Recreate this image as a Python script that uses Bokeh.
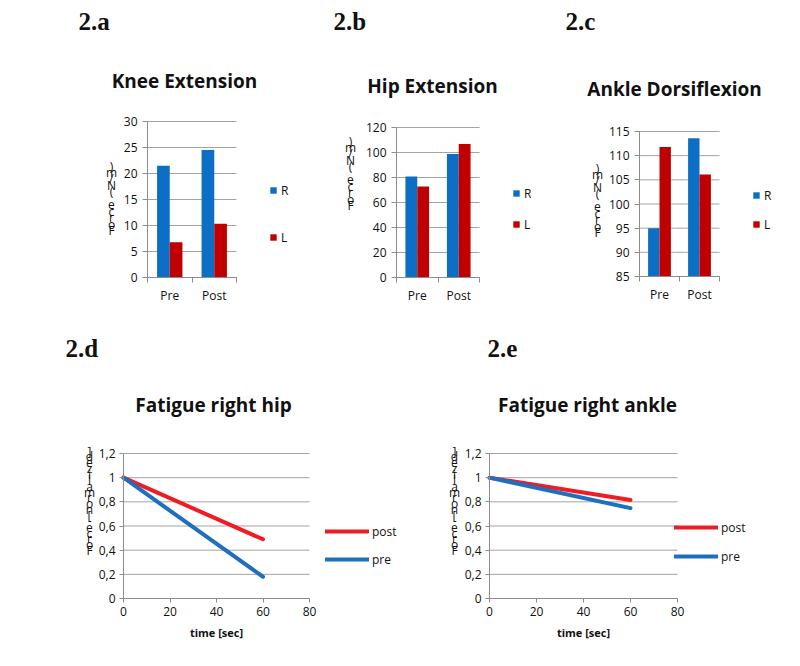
from bokeh.plotting import figure
from bokeh.models import (Range1d, Label, Legend, LegendItem, LinearAxis,
                          ColumnDataSource, FixedTicker)
from bokeh.transform import dodge
from bokeh.embed import file_html
from bokeh.resources import INLINE

# ---------------- data ----------------
categories = ["Pre", "Post"]
knee_R = [21.5, 24.5]
knee_L = [6.8, 10.35]
hip_R = [80.9, 98.8]
hip_L = [72.9, 106.8]
ankle_R = [95.0, 113.6]
ankle_L = [111.8, 106.1]

knee_ticks = [0, 5, 10, 15, 20, 25, 30]
hip_ticks = [0, 20, 40, 60, 80, 100, 120]
ankle_ticks = [85, 90, 95, 100, 105, 110, 115]

time_sec = [0, 60]
hip_post = [1.0, 0.49]
hip_pre = [1.0, 0.18]
ankle_post = [1.0, 0.815]
ankle_pre = [1.0, 0.748]

line_x_ticks = [0, 20, 40, 60, 80]
line_y_ticks = [0, 0.2, 0.4, 0.6, 0.8, 1, 1.2]
line_y_labels = ["0", "0,2", "0,4", "0,6", "0,8", "1", "1,2"]

bar_ylabel = "Force (N/m)"
line_ylabel = "Force [normalized]"
line_xlabel = "time [sec]"

# ---------------- style ----------------
FONT = "Open Sans"
SERIF = "Liberation Serif"
BLUE = "#0c6ec4"
RED = "#c00000"
LBLUE = "#1e6fbf"
LRED = "#ee1c25"
GRID = "#a3a3a3"
AXIS = "#8c8c8c"
INK = "#111111"

WC, HC = 792, 658  # canvas; the frame covers all of it

p = figure(width=WC, height=HC, x_range=Range1d(0, WC), y_range=Range1d(0, HC),
           x_axis_type=None, y_axis_type=None, output_backend="svg",
           toolbar_location=None, min_border=0, title=None)
p.grid.visible = False
p.outline_line_color = None

xr, yr = {}, {}


def panel_ranges(name, L, R, T, B, d0, d1, v0, v1):
    """data ranges so that [d0,d1]x[v0,v1] fills the pixel box L..R, T..B"""
    ppx = (R - L) / (d1 - d0)
    xs = d0 - L / ppx
    ppy = (B - T) / (v1 - v0)
    ys = v0 - (HC - B) / ppy
    xr[name] = Range1d(xs, xs + WC / ppx)
    yr[name] = Range1d(ys, ys + HC / ppy)


def add_text(X, Y, text, **kw):
    p.add_layout(Label(x=X, y=HC - Y, x_units="screen", y_units="screen",
                       text=text, text_color=INK, **kw))


def style_axis(ax):
    ax.axis_line_color = AXIS
    ax.major_tick_line_color = AXIS
    ax.major_tick_in = 0
    ax.major_tick_out = 4
    ax.minor_tick_line_color = None
    ax.major_label_text_font = FONT
    ax.major_label_text_font_size = "12px"
    ax.major_label_text_color = INK


def grid_lines(name, ticks, x0, x1):
    p.segment(x0=[x0] * len(ticks), x1=[x1] * len(ticks), y0=ticks, y1=ticks,
              line_color=GRID, line_width=1, x_range_name=name,
              y_range_name=name, level="underlay")


def titles(title, tx, ty, panel, px, py, ylab, yx, yy, lh):
    add_text(tx, ty - 7, title, text_font=FONT, text_font_size="19px",
             text_font_style="bold", text_align="center",
             text_baseline="alphabetic")
    add_text(px, py - 8, panel, text_font=SERIF, text_font_size="25px",
             text_font_style="bold", text_align="left",
             text_baseline="alphabetic")
    add_text(yx, yy - 6, "\n".join(reversed(ylab)), text_font=FONT,
             text_font_size="12px", text_align="center", text_baseline="top",
             text_line_height=lh)


pos = [i + 0.5 for i in range(len(categories))]
bounds_pos = [float(i) for i in range(len(categories) + 1)]

bar_specs = [
    # name, box(L,R,T,B), ticks, R, L, title, title xy, panel, panel xy, ylabel xy, legend x, legend ys
    ("a", (147, 236, 121, 277), knee_ticks, knee_R, knee_L, "Knee Extension",
     (184, 87), "2.a", (78, 29), (111, 163), 269, (190, 237)),
    ("b", (396, 479, 127, 277), hip_ticks, hip_R, hip_L, "Hip Extension",
     (432, 92), "2.b", (333, 29), (350, 138), 512, (193, 224)),
    ("c", (639, 719, 131, 276), ankle_ticks, ankle_R, ankle_L, "Ankle Dorsiflexion",
     (674, 95), "2.c", (565, 29), (597, 165), 752, (195, 224)),
]

for name, (L, R, T, B), ticks, rv, lv, title, (tx, ty), panel, (px, py), (yx, yy), lx, (lyr, lyl) in bar_specs:
    v0, v1 = ticks[0], ticks[-1]
    panel_ranges(name, L, R, T, B, 0, len(categories), v0, v1)
    p.extra_x_ranges = dict(xr)
    p.extra_y_ranges = dict(yr)
    grid_lines(name, ticks, 0, len(categories))
    src = ColumnDataSource(dict(pos=pos, R=rv, L=lv))
    rr = p.vbar(x=dodge("pos", -0.1425), top="R", bottom=v0, width=0.285,
                source=src, fill_color=BLUE, line_color=None,
                x_range_name=name, y_range_name=name)
    rl = p.vbar(x=dodge("pos", 0.1425), top="L", bottom=v0, width=0.285,
                source=src, fill_color=RED, line_color=None,
                x_range_name=name, y_range_name=name)
    yax = LinearAxis(x_range_name=name, y_range_name=name, fixed_location=0,
                     bounds=(v0, v1), ticker=FixedTicker(ticks=ticks))
    style_axis(yax)
    yax.major_tick_out = 5
    yax.major_label_standoff = 5
    p.add_layout(yax, "left")
    xax = LinearAxis(x_range_name=name, y_range_name=name, fixed_location=v0,
                     bounds=(0, len(categories)),
                     ticker=FixedTicker(ticks=pos, minor_ticks=bounds_pos),
                     major_label_overrides={k: c for k, c in zip(pos, categories)})
    style_axis(xax)
    xax.major_tick_line_color = None
    xax.major_tick_out = 0
    xax.minor_tick_line_color = AXIS
    xax.minor_tick_in = 0
    xax.minor_tick_out = 5
    xax.major_label_standoff = 4
    p.add_layout(xax, "below")
    for rend, lab, ly in ((rr, "R", lyr), (rl, "L", lyl)):
        p.add_layout(Legend(items=[LegendItem(label=lab, renderers=[rend])],
                            location=(lx, HC - ly - 9), glyph_width=8,
                            glyph_height=8, label_standoff=4,
                            label_text_font=FONT, label_text_font_size="12px",
                            label_text_color=INK,
                            label_height=18, padding=0, margin=0,
                            border_line_color=None, background_fill_alpha=0))
    titles(title, tx, ty, panel, px, py, bar_ylabel, yx, yy, 0.38)

line_specs = [
    ("d", (123, 309, 453, 598), hip_post, hip_pre, "Fatigue right hip",
     (213, 411), "2.d", (65, 356), (89, 448), 325, (531, 559)),
    ("e", (489, 677, 453, 598), ankle_post, ankle_pre, "Fatigue right ankle",
     (587, 411), "2.e", (487, 356), (454, 448), 674, (527, 556)),
]

for name, (L, R, T, B), post, pre, title, (tx, ty), panel, (px, py), (yx, yy), lx, (lyp, lyq) in line_specs:
    x0, x1 = line_x_ticks[0], line_x_ticks[-1]
    v0, v1 = line_y_ticks[0], line_y_ticks[-1]
    panel_ranges(name, L, R, T, B, x0, x1, v0, v1)
    p.extra_x_ranges = dict(xr)
    p.extra_y_ranges = dict(yr)
    grid_lines(name, line_y_ticks, x0, x1)
    r_post = p.line(time_sec, post, line_width=4, color=LRED, line_cap="round",
                    x_range_name=name, y_range_name=name)
    r_pre = p.line(time_sec, pre, line_width=4, color=LBLUE, line_cap="round",
                   x_range_name=name, y_range_name=name)
    yax = LinearAxis(x_range_name=name, y_range_name=name, fixed_location=x0,
                     bounds=(v0, v1), ticker=FixedTicker(ticks=line_y_ticks),
                     major_label_overrides={t: s for t, s in zip(line_y_ticks, line_y_labels)})
    style_axis(yax)
    yax.major_label_standoff = 4
    p.add_layout(yax, "left")
    xax = LinearAxis(x_range_name=name, y_range_name=name, fixed_location=v0,
                     bounds=(x0, x1), ticker=FixedTicker(ticks=line_x_ticks))
    style_axis(xax)
    xax.major_label_standoff = 4
    xax.axis_label = line_xlabel
    xax.axis_label_text_font = FONT
    xax.axis_label_text_font_size = "11px"
    xax.axis_label_text_font_style = "bold"
    xax.axis_label_text_color = INK
    xax.axis_label_standoff = 6
    p.add_layout(xax, "below")
    for rend, lab, ly in ((r_post, "post", lyp), (r_pre, "pre", lyq)):
        p.add_layout(Legend(items=[LegendItem(label=lab, renderers=[rend])],
                            location=(lx, HC - ly - 9), glyph_width=44,
                            glyph_height=18, label_standoff=3,
                            label_text_font=FONT, label_text_font_size="12px",
                            label_text_color=INK,
                            label_height=18, padding=0, margin=0,
                            border_line_color=None, background_fill_alpha=0))
    titles(title, tx, ty, panel, px, py, line_ylabel, yx, yy, 0.345)

open("out.html", "w").write(file_html(p, INLINE))
